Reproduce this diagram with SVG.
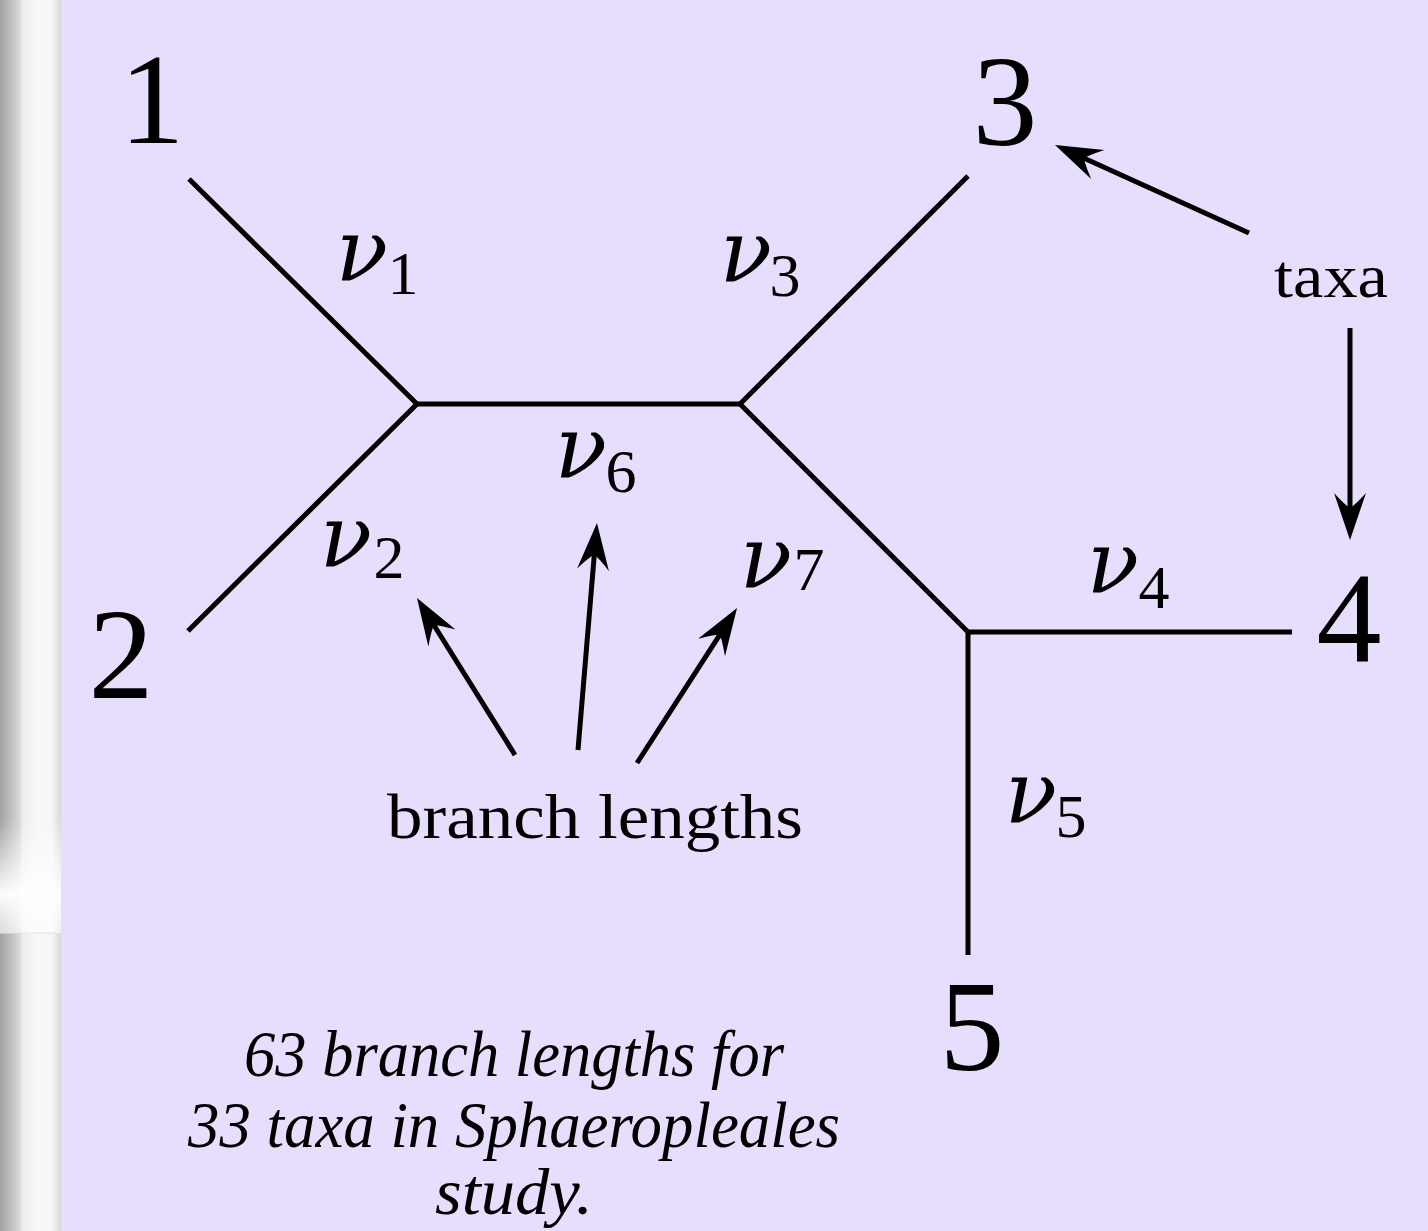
<svg xmlns="http://www.w3.org/2000/svg" width="1428" height="1231" viewBox="0 0 1428 1231">
<style>
.edge{stroke:#000;stroke-width:5;fill:none;stroke-linecap:butt}
.arr{stroke:#000;stroke-width:5;fill:none;marker-end:url(#head)}
.num{font-family:"Liberation Serif",serif;font-size:130px;fill:#000;text-anchor:middle}
.nu{font-family:"DejaVu Serif",serif;font-style:italic;font-size:86px;fill:#000;text-anchor:middle}
.sub{font-family:"Liberation Serif",serif;font-size:62px;fill:#000;text-anchor:middle}
.lbl{font-family:"Liberation Serif",serif;fill:#000;text-anchor:middle}
.cap{font-family:"Liberation Serif",serif;font-style:italic;font-size:65px;fill:#000;text-anchor:middle}
</style>
<defs>
<linearGradient id="strip" x1="0" y1="0" x2="1" y2="0">
<stop offset="0" stop-color="#a2a2a2"/>
<stop offset="0.33" stop-color="#d9d9d9"/>
<stop offset="0.36" stop-color="#ececec"/>
<stop offset="0.6" stop-color="#f7f7f7"/>
<stop offset="0.85" stop-color="#f6f6f6"/>
<stop offset="0.95" stop-color="#e2e2e2"/>
<stop offset="1" stop-color="#d8d8d8"/>
</linearGradient>
<linearGradient id="glow" x1="0" y1="0" x2="0" y2="1">
<stop offset="0" stop-color="#ffffff" stop-opacity="0"/>
<stop offset="0.65" stop-color="#ffffff" stop-opacity="0.95"/>
<stop offset="1" stop-color="#ffffff" stop-opacity="0.6"/>
</linearGradient>
<marker id="head" markerUnits="userSpaceOnUse" markerWidth="80" markerHeight="40" viewBox="-30 -20 60 40" refX="0" refY="0" orient="auto" overflow="visible">
<path d="M20,0 L-27,-16 Q-14,-4 -12,0 Q-14,4 -27,16 Z" fill="#000"/>
</marker>
</defs>
<rect x="0" y="0" width="1428" height="1231" fill="#e7defe"/>
<rect x="0" y="0" width="61" height="1231" fill="url(#strip)"/>
<rect x="0" y="820" width="61" height="113" fill="url(#glow)"/>
<line x1="0" y1="933" x2="56" y2="933" stroke="#e4e4e4" stroke-width="1"/>

<g id="connectors">
<line class="edge" x1="189" y1="179" x2="417" y2="404"/>
<line class="edge" x1="417" y1="404" x2="188" y2="631"/>
<line class="edge" x1="415" y1="404" x2="742" y2="404"/>
<line class="edge" x1="740" y1="404" x2="968" y2="176"/>
<line class="edge" x1="740" y1="404" x2="968" y2="632"/>
<line class="edge" x1="966" y1="632" x2="1292" y2="632"/>
<line class="edge" x1="968" y1="630" x2="968" y2="955"/>
<line class="arr" x1="1249" y1="233" x2="1073.2" y2="153.3"/>
<line class="arr" x1="1350" y1="328" x2="1350" y2="520"/>
<line class="arr" x1="515" y1="755" x2="427.6" y2="615"/>
<line class="arr" x1="578" y1="750" x2="595.3" y2="542.9"/>
<line class="arr" x1="637" y1="763" x2="726.2" y2="624.8"/>
</g>

<g id="taxon1"><text class="num" x="152" y="143">1</text></g>
<g id="taxon2"><text class="num" x="121" y="698">2</text></g>
<g id="taxon3"><text class="num" x="1005" y="145">3</text></g>
<g id="taxon4"><text class="num" x="1349" y="662">4</text></g>
<g id="taxon5"><text class="num" x="972" y="1070">5</text></g>

<g id="nu1"><text class="nu" x="362" y="280">ν</text><text class="sub" x="403" y="294">1</text></g>
<g id="nu2"><text class="nu" x="346" y="566">ν</text><text class="sub" x="389" y="578">2</text></g>
<g id="nu3"><text class="nu" x="746" y="281">ν</text><text class="sub" x="785" y="296">3</text></g>
<g id="nu4"><text class="nu" x="1113" y="592">ν</text><text class="sub" x="1154" y="608">4</text></g>
<g id="nu5"><text class="nu" x="1031" y="822">ν</text><text class="sub" x="1071" y="837">5</text></g>
<g id="nu6"><text class="nu" x="581" y="477">ν</text><text class="sub" x="621" y="492">6</text></g>
<g id="nu7"><text class="nu" x="766" y="587">ν</text><text class="sub" x="809" y="590">7</text></g>

<g id="taxa-label"><text class="lbl" x="1331" y="297" font-size="62" textLength="114" lengthAdjust="spacingAndGlyphs">taxa</text></g>
<g id="branch-label"><text class="lbl" x="595" y="838" font-size="64" textLength="416" lengthAdjust="spacingAndGlyphs">branch lengths</text></g>
<g id="caption">
<text class="cap" x="514" y="1076" textLength="540" lengthAdjust="spacingAndGlyphs">63 branch lengths for</text>
<text class="cap" x="514" y="1147" textLength="652" lengthAdjust="spacingAndGlyphs">33 taxa in Sphaeropleales</text>
<text class="cap" x="514" y="1214" textLength="158" lengthAdjust="spacingAndGlyphs">study.</text>
</g>
</svg>
